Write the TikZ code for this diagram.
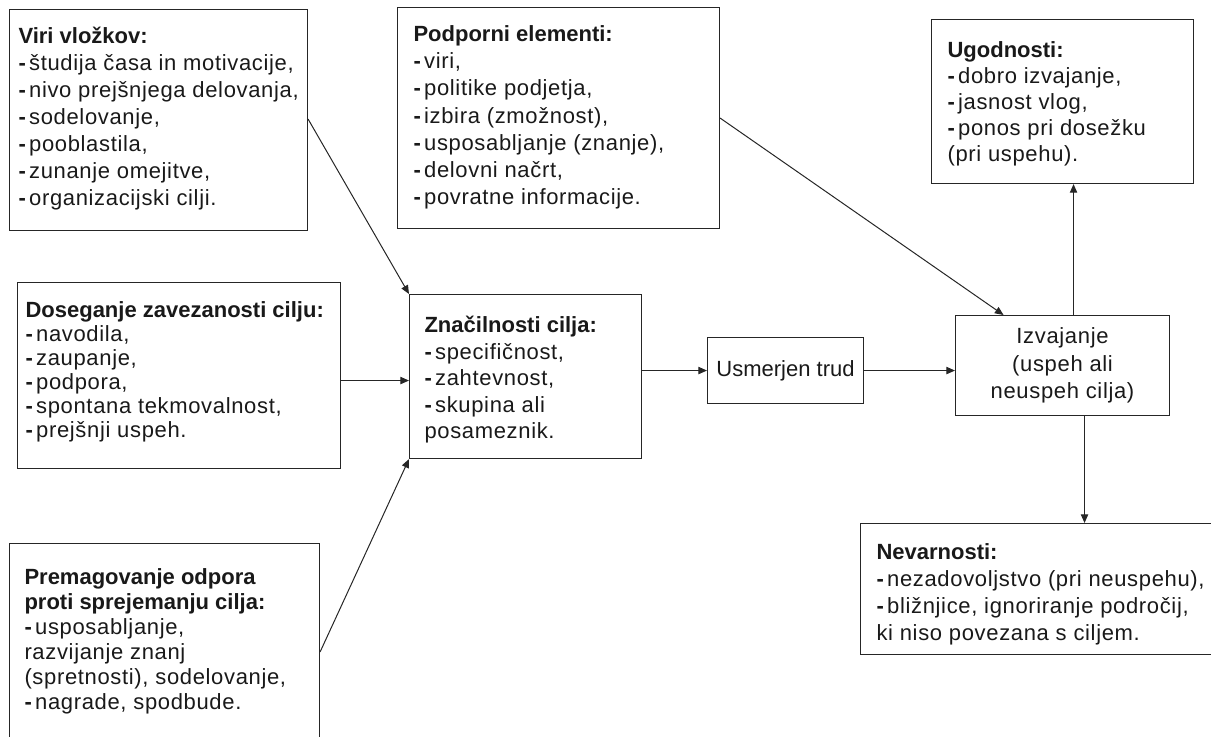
\documentclass[tikz,border=0pt]{standalone}
\usepackage{fontspec}
\setmainfont{Liberation Sans}[LetterSpace=3, BoldFeatures={LetterSpace=0}]
\newfontfamily\tightfont{Liberation Sans}
\usetikzlibrary{arrows.meta}

% text block with fixed size: width, height, left pad, first baseline, line step, text
\newcommand\boxtext[6]{\parbox[t][#2][t]{#1}{\raggedright\leftskip=#3\relax\parindent=0pt
  \baselineskip=#5\relax\lineskiplimit=-20pt\rule{0pt}{#4}#6}}
\newcommand\itm{\textbf{-}\hspace{0.15em}}

\begin{document}
\begin{tikzpicture}[x=0.75pt,y=-0.75pt,
  box/.style={draw=black!85, line width=0.8pt, anchor=north west, inner sep=0pt,
    text=black!90, font=\fontsize{16.5pt}{17pt}\selectfont},
  cbox/.style={box, align=center},
  conn/.style={draw=black!85, line width=0.75pt, -{Triangle[length=6.5pt,width=5.5pt]}}]
\useasboundingbox (0,0) rectangle (1211,736);
\clip (0,0) rectangle (1211,736);

\node[box] (viri) at (9,9) {\boxtext{223.5pt}{165.75pt}{6.75pt}{25.5pt}{20.25pt}{%
  \textbf{Viri vložkov:}\\
  \itm študija časa in motivacije,\\
  \itm nivo prejšnjega delovanja,\\
  \itm sodelovanje,\\
  \itm pooblastila,\\
  \itm zunanje omejitve,\\
  \itm organizacijski cilji.}};

\node[box] (podp) at (397,7) {\boxtext{241.5pt}{165.75pt}{12pt}{25.5pt}{20.4pt}{%
  \textbf{Podporni elementi:}\\
  \itm viri,\\
  \itm politike podjetja,\\
  \itm izbira (zmožnost),\\
  \itm usposabljanje (znanje),\\
  \itm delovni načrt,\\
  \itm povratne informacije.}};

\node[box] (ugod) at (931,19) {\boxtext{196.5pt}{123pt}{12pt}{28.5pt}{19.5pt}{%
  \textbf{Ugodnosti:}\\
  \itm dobro izvajanje,\\
  \itm jasnost vlog,\\
  \itm ponos pri dosežku\\
  (pri uspehu).}};

\node[box] (doseg) at (17,282) {\boxtext{242.25pt}{139.5pt}{6pt}{26.25pt}{18pt}{%
  \textbf{Doseganje zavezanosti cilju:}\\
  \itm navodila,\\
  \itm zaupanje,\\
  \itm podpora,\\
  \itm spontana tekmovalnost,\\
  \itm prejšnji uspeh.}};

\node[box] (znac) at (409,294) {\boxtext{174pt}{123pt}{11.25pt}{28.5pt}{19.9pt}{%
  \textbf{Značilnosti cilja:}\\
  \itm specifičnost,\\
  \itm zahtevnost,\\
  \itm skupina ali\\
  posameznik.}};

\node[cbox, minimum width=117pt, minimum height=49.5pt,
  font=\tightfont\fontsize{16.5pt}{17pt}\selectfont] (usm) at (707,337) {Usmerjen trud};

\node[cbox, minimum width=160.5pt, minimum height=75pt,
  font=\fontsize{16.5pt}{20.6pt}\selectfont] (izv) at (955,315)
  {Izvajanje\\(uspeh ali\\neuspeh cilja)};

\node[box] (nev) at (860,523) {\boxtext{266.25pt}{98.25pt}{12pt}{27pt}{20.25pt}{%
  \textbf{Nevarnosti:}\\
  \itm nezadovoljstvo (pri neuspehu),\\
  \itm bližnjice, ignoriranje področij,\\
  ki niso povezana s ciljem.}};

\node[box] (prem) at (9,543) {\boxtext{232.5pt}{150pt}{11.25pt}{30.75pt}{18.75pt}{%
  \textbf{Premagovanje odpora}\\
  \textbf{proti sprejemanju cilja:}\\
  \itm usposabljanje,\\
  razvijanje znanj\\
  (spretnosti), sodelovanje,\\
  \itm nagrade, spodbude.}};

% connectors
\draw[conn] ([yshift=0.75pt]viri.east) -- (znac.north west);
\draw[conn] ([yshift=-3.75pt]doseg.east) -- ([yshift=-3.75pt]doseg.east -| znac.west);
\draw[conn] ([yshift=-81.75pt]prem.north east) -- (znac.south west);
\draw[conn] (znac.east |- usm.west) -- (usm.west);
\draw[conn] (usm.east) -- (usm.east -| izv.west);
\draw[conn] (podp.east) -- ([xshift=-44.25pt]izv.north);
\draw[conn] ([xshift=8.25pt]izv.north) -- ([xshift=8.25pt]izv.north |- ugod.south);
\draw[conn] ([xshift=16.5pt]izv.south) -- ([xshift=16.5pt]izv.south |- nev.north);
\end{tikzpicture}
\end{document}
